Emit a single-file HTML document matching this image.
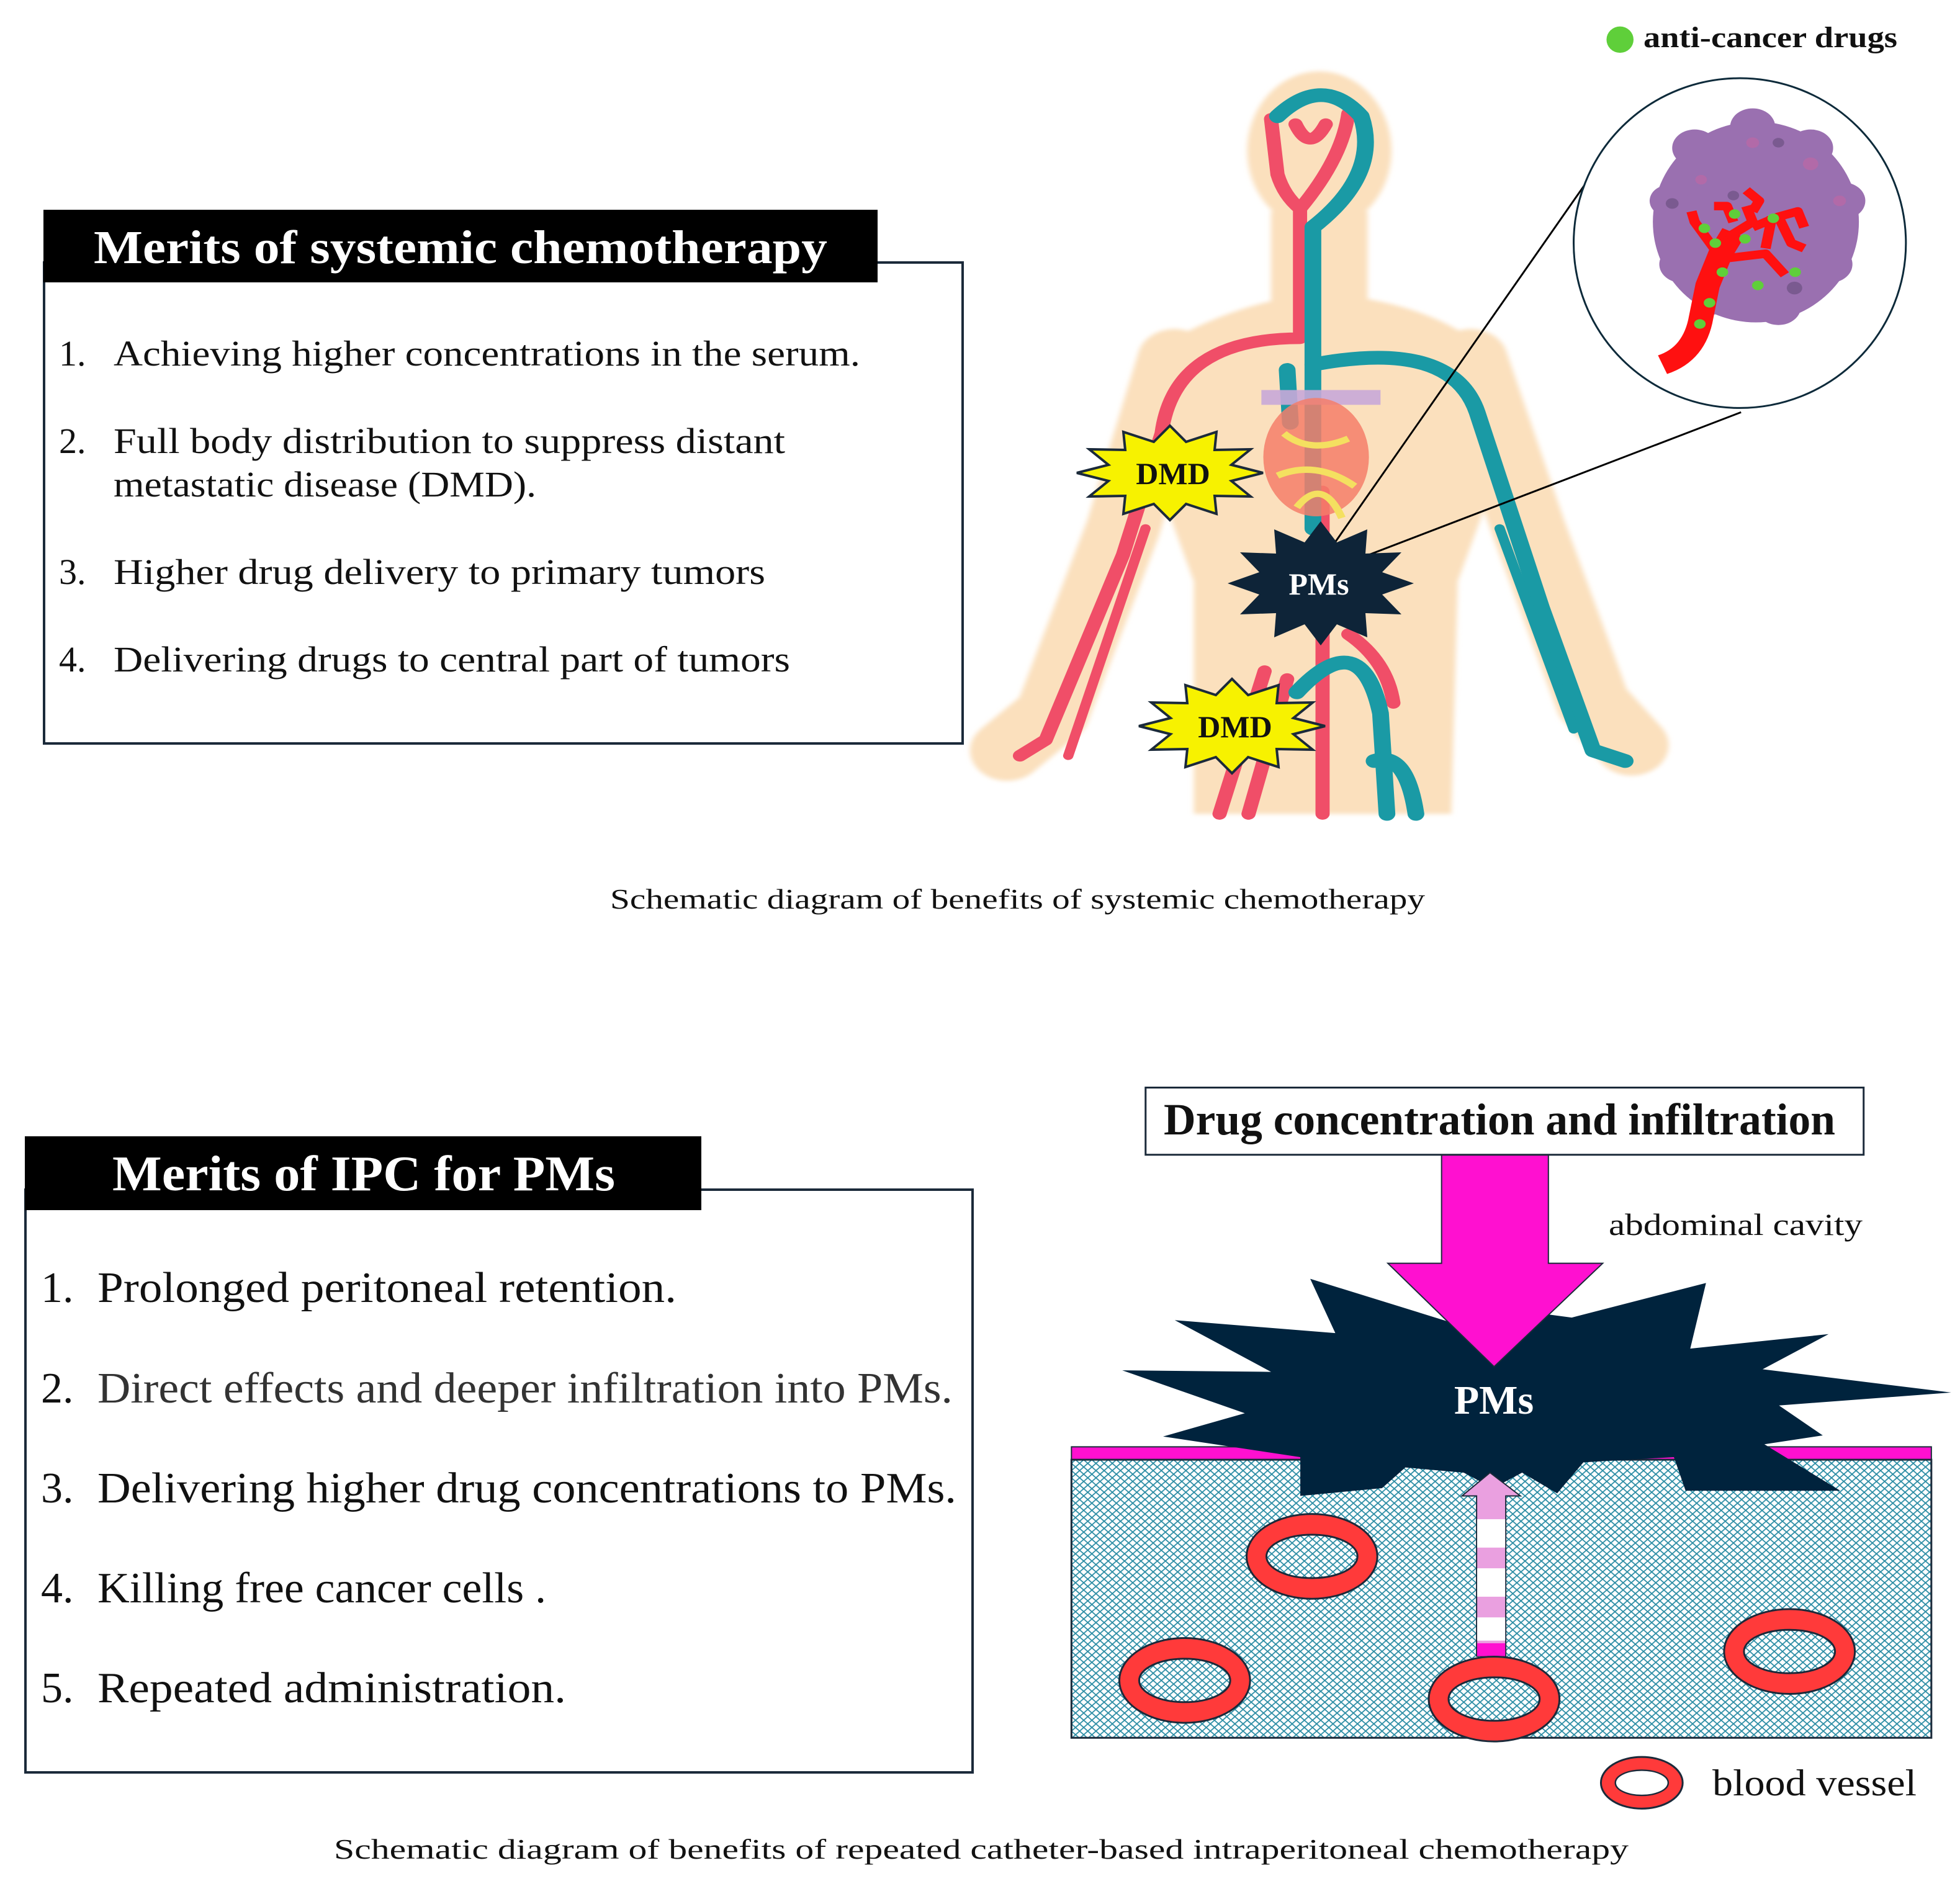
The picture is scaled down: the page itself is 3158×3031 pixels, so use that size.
<!DOCTYPE html>
<html><head><meta charset="utf-8"><style>
html,body{margin:0;padding:0;background:#fff}
svg{display:block}
text{font-family:"Liberation Serif",serif}
</style></head><body>
<svg width="3158" height="3031" viewBox="0 0 3158 3031" xmlns="http://www.w3.org/2000/svg">
<defs>
<pattern id="hatch" width="14" height="14" patternUnits="userSpaceOnUse">
<rect width="14" height="14" fill="#fff"/>
<path d="M0 0L14 14M14 0L0 14" stroke="#2a8ca4" stroke-width="2"/>
</pattern>
<filter id="blur" x="-20%" y="-20%" width="140%" height="140%"><feGaussianBlur stdDeviation="4"/></filter>
</defs>

<rect x="71" y="423" width="1480" height="775" fill="none" stroke="#1b2a3a" stroke-width="4"/>
<rect x="70" y="338" width="1344" height="117" fill="#000"/>
<text x="151" y="424" font-size="76" font-weight="bold" fill="#fff" textLength="1182" lengthAdjust="spacingAndGlyphs">Merits of systemic chemotherapy</text>
<g font-size="58" fill="#111">
<text x="95" y="589">1.</text><text x="183" y="589" textLength="1203" lengthAdjust="spacingAndGlyphs">Achieving higher concentrations in the serum.</text>
<text x="95" y="730">2.</text><text x="183" y="730" textLength="1082" lengthAdjust="spacingAndGlyphs">Full body distribution to suppress distant</text>
<text x="183" y="800" textLength="681" lengthAdjust="spacingAndGlyphs">metastatic disease (DMD).</text>
<text x="95" y="941">3.</text><text x="183" y="941" textLength="1050" lengthAdjust="spacingAndGlyphs">Higher drug delivery to primary tumors</text>
<text x="95" y="1082">4.</text><text x="183" y="1082" textLength="1090" lengthAdjust="spacingAndGlyphs">Delivering drugs to central part of tumors</text>
</g>
<text x="983" y="1464" font-size="46" fill="#111" textLength="1313" lengthAdjust="spacingAndGlyphs">Schematic diagram of benefits of systemic chemotherapy</text>

<g transform="translate(1550,0) scale(1.0374,0.8516)">
<g filter="url(#blur)" fill="#fbe0bd" stroke="#fbe0bd">
<ellipse cx="555" cy="285" rx="112" ry="150" stroke="none"/>
<rect x="480" y="400" width="150" height="190" stroke="none"/>
<path d="M330 640 Q420 580 520 560 L600 560 Q720 580 790 640 L830 900 L770 1100 L760 1540 L360 1540 L360 1100 L300 900 Z" stroke="none"/>
<path d="M330 680 L250 1000 L140 1350 L70 1420" fill="none" stroke-width="115" stroke-linecap="round" stroke-linejoin="round"/>
<path d="M790 680 L880 1000 L980 1330 L1040 1410" fill="none" stroke-width="115" stroke-linecap="round" stroke-linejoin="round"/>
</g>
<g fill="none" stroke="#f04e68" stroke-width="22" stroke-linecap="round" stroke-linejoin="round">
<path d="M480 225 L490 330 Q500 370 525 395 M600 215 Q590 300 525 395 M518 235 Q540 290 565 235"/>
<path d="M525 395 L525 640 Q330 640 310 820 L250 1050 L130 1400 L90 1430"/>
<path d="M285 1000 L165 1430" stroke-width="16"/>
<path d="M560 930 L560 1540"/>
<path d="M600 1200 Q660 1250 670 1330"/>
<path d="M470 1270 L400 1540 M505 1285 L445 1540"/>
</g>
<g fill="none" stroke="#1a9aa5" stroke-width="26" stroke-linecap="round" stroke-linejoin="round">
<path d="M490 220 Q560 140 620 220 Q650 330 545 430 L545 1000"/>
<path d="M545 690 Q760 640 800 780 L900 1150 L980 1420 L1030 1440"/>
<path d="M835 1000 L950 1380" stroke-width="16"/>
<path d="M520 1310 Q620 1180 650 1350 L660 1540"/>
<path d="M640 1440 Q690 1420 705 1540"/>
<path d="M505 700 L510 800"/>
</g>
<rect x="465" y="738" width="185" height="28" fill="#c8a8d8" opacity=".9"/>
<ellipse cx="550" cy="865" rx="82" ry="112" fill="#f47e6a" opacity=".85"/>
<path d="M500 820 Q540 860 600 830 M490 900 Q550 870 610 920 M520 960 Q560 900 590 980" stroke="#f4e060" stroke-width="12" fill="none"/>
<line x1="560" y1="1060" x2="1030" y2="240" stroke="#000" stroke-width="3" vector-effect="non-scaling-stroke"/>
<line x1="610" y1="1060" x2="1210" y2="780" stroke="#000" stroke-width="3" vector-effect="non-scaling-stroke"/>
<ellipse cx="1208" cy="460" rx="258" ry="312" fill="#fff" stroke="#0d2a3a" stroke-width="3" vector-effect="non-scaling-stroke"/>
<g transform="translate(-12,0)">
<ellipse cx="1245" cy="420" rx="160" ry="190" fill="#9a70b0"/>
<g fill="#9a70b0">
<circle cx="1110" cy="380" r="30"/><circle cx="1130" cy="500" r="35"/><circle cx="1180" cy="560" r="35"/><circle cx="1280" cy="580" r="35"/><circle cx="1360" cy="500" r="35"/><circle cx="1380" cy="380" r="35"/><circle cx="1330" cy="280" r="35"/><circle cx="1240" cy="240" r="35"/><circle cx="1150" cy="280" r="35"/>
</g>
<g fill="#7a5a90"><circle cx="1280" cy="270" r="9"/><circle cx="1115" cy="385" r="10"/><circle cx="1305" cy="545" r="12"/><circle cx="1210" cy="370" r="9"/></g>
<g fill="#b26aa8"><circle cx="1240" cy="270" r="10"/><circle cx="1330" cy="310" r="12"/><circle cx="1160" cy="340" r="9"/><circle cx="1375" cy="380" r="10"/></g>
<g fill="none" stroke="#ff1010" stroke-linejoin="round">
<path d="M1100 690 Q1150 670 1160 600 L1170 540 L1190 480 L1210 440" stroke-width="38"/>
<path d="M1190 490 L1260 480 L1290 520 M1180 470 L1150 420 L1145 400 M1200 450 L1240 420 L1230 390 M1240 430 L1280 410 L1300 460 L1320 470 M1260 470 L1270 410 M1210 420 L1200 390 L1180 390 M1240 400 L1250 380 L1230 360 M1280 410 L1310 400 L1320 430" stroke-width="16"/>
</g>
<g fill="#5fcf3a"><circle cx="1165" cy="432" r="9"/><circle cx="1182" cy="460" r="9"/><circle cx="1212" cy="405" r="9"/><circle cx="1228" cy="452" r="9"/><circle cx="1272" cy="413" r="9"/><circle cx="1193" cy="515" r="9"/><circle cx="1248" cy="540" r="9"/><circle cx="1306" cy="515" r="9"/><circle cx="1173" cy="573" r="9"/><circle cx="1158" cy="613" r="9"/></g>
</g>
<ellipse cx="1022" cy="75" rx="21" ry="25" fill="#5fcf3a"/>
</g>
<text x="2648" y="76" font-size="48" font-weight="bold" fill="#111" textLength="409" lengthAdjust="spacingAndGlyphs">anti-cancer drugs</text>

<polygon points="2035,762 1984,775 2015,800 1957,799 1960,828 1911,812 1885,838 1859,812 1810,828 1813,799 1755,800 1786,775 1735,762 1786,749 1755,724 1813,725 1810,696 1859,712 1885,686 1911,712 1960,696 1957,725 2015,724 1984,749" fill="#f7f200" stroke="#1b2a3a" stroke-width="4"/>
<text x="1890" y="780" font-size="50" font-weight="bold" fill="#111" text-anchor="middle">DMD</text>
<polygon points="2135,1170 2084,1183 2115,1208 2057,1207 2060,1236 2011,1220 1985,1246 1959,1220 1910,1236 1913,1207 1855,1208 1886,1183 1835,1170 1886,1157 1855,1132 1913,1133 1910,1104 1959,1120 1985,1094 2011,1120 2060,1104 2057,1133 2115,1132 2084,1157" fill="#f7f200" stroke="#1b2a3a" stroke-width="4"/>
<text x="1990" y="1188" font-size="50" font-weight="bold" fill="#111" text-anchor="middle">DMD</text>
<polygon points="2278,940 2227,958 2258,990 2200,988 2203,1027 2154,1006 2128,1040 2102,1006 2053,1027 2056,988 1998,990 2029,958 1978,940 2029,922 1998,890 2056,892 2053,853 2102,874 2128,840 2154,874 2203,853 2200,892 2258,890 2227,922" fill="#0e2438"/>
<text x="2125" y="958" font-size="50" font-weight="bold" fill="#fff" text-anchor="middle">PMs</text>

<rect x="41" y="1917" width="1526" height="939" fill="none" stroke="#1b2a3a" stroke-width="4"/>
<rect x="40" y="1831" width="1090" height="119" fill="#000"/>
<text x="181" y="1918" font-size="80" font-weight="bold" fill="#fff" textLength="810" lengthAdjust="spacingAndGlyphs">Merits of IPC for PMs</text>
<g font-size="70" fill="#111">
<text x="66" y="2098">1.</text><text x="157" y="2098" textLength="933" lengthAdjust="spacingAndGlyphs">Prolonged peritoneal retention.</text>
<text x="66" y="2260">2.</text><text x="157" y="2260" fill="#333" textLength="1378" lengthAdjust="spacingAndGlyphs">Direct effects and deeper infiltration into PMs.</text>
<text x="66" y="2421">3.</text><text x="157" y="2421" textLength="1384" lengthAdjust="spacingAndGlyphs">Delivering higher drug concentrations to PMs.</text>
<text x="66" y="2582">4.</text><text x="157" y="2582" textLength="723" lengthAdjust="spacingAndGlyphs">Killing free cancer cells .</text>
<text x="66" y="2743">5.</text><text x="157" y="2743" textLength="755" lengthAdjust="spacingAndGlyphs">Repeated administration.</text>
</g>
<text x="538" y="2995" font-size="46" fill="#111" textLength="2086" lengthAdjust="spacingAndGlyphs">Schematic diagram of benefits of  repeated catheter-based intraperitoneal chemotherapy</text>

<g transform="translate(1700,1740) scale(0.9406,0.8329)">
<rect x="28" y="710" width="1473" height="25" fill="#ff10d0" stroke="#1b2a3a" stroke-width="2" vector-effect="non-scaling-stroke"/>
<rect x="28" y="735" width="1473" height="538" fill="url(#hatch)" stroke="#1b2a3a" stroke-width="3" vector-effect="non-scaling-stroke"/>
<polygon points="115,562 370,565 205,465 480,490 437,385 680,470 752,440 885,460 1115,393 1088,520 1325,492 1212,560 1535,605 1240,630 1315,688 1215,705 1345,795 1080,795 1060,730 905,740 860,800 800,760 750,790 700,760 600,750 560,790 420,805 420,730 185,690 325,645" fill="#00233d"/>
<polygon points="662,145 845,145 845,355 938,355 752,555 570,355 662,355" fill="#ff10d0" stroke="#1b2a3a" stroke-width="2" vector-effect="non-scaling-stroke"/>
<rect x="155" y="15" width="1230" height="130" fill="#fff" stroke="#1b2a3a" stroke-width="3" vector-effect="non-scaling-stroke"/>
<polygon points="745,760 797,805 772,805 772,1115 722,1115 722,805 697,805" fill="#eaa0e0" stroke="#1b2a3a" stroke-width="2" vector-effect="non-scaling-stroke"/>
<rect x="723" y="850" width="48" height="55" fill="#fff"/>
<rect x="723" y="945" width="48" height="55" fill="#fff"/>
<rect x="723" y="1040" width="48" height="45" fill="#fff"/>
<rect x="723" y="1090" width="48" height="25" fill="#ff10d0"/>
<g fill="#ff3a3a" stroke="#1b2a3a" stroke-width="3">
<path fill-rule="evenodd" vector-effect="non-scaling-stroke" d="M328,922a112,82 0 1,0 224,0a112,82 0 1,0 -224,0Z M362,922a78,42 0 1,0 156,0a78,42 0 1,0 -156,0Z"/>
<path fill-rule="evenodd" vector-effect="non-scaling-stroke" d="M110,1162a112,82 0 1,0 224,0a112,82 0 1,0 -224,0Z M144,1162a78,42 0 1,0 156,0a78,42 0 1,0 -156,0Z"/>
<path fill-rule="evenodd" vector-effect="non-scaling-stroke" d="M640,1198a112,82 0 1,0 224,0a112,82 0 1,0 -224,0Z M674,1198a78,42 0 1,0 156,0a78,42 0 1,0 -156,0Z"/>
<path fill-rule="evenodd" vector-effect="non-scaling-stroke" d="M1146,1106a112,82 0 1,0 224,0a112,82 0 1,0 -224,0Z M1180,1106a78,42 0 1,0 156,0a78,42 0 1,0 -156,0Z"/>
<path fill-rule="evenodd" vector-effect="non-scaling-stroke" d="M935,1360a70,50 0 1,0 140,0a70,50 0 1,0 -140,0Z M960,1360a45,24 0 1,0 90,0a45,24 0 1,0 -90,0Z"/>
</g>
<ellipse cx="1005" cy="1360" rx="44" ry="23" fill="#fff"/>
</g>
<text x="1875" y="1828" font-size="72" font-weight="bold" fill="#111" textLength="1082" lengthAdjust="spacingAndGlyphs">Drug concentration and infiltration</text>
<text x="2592" y="1990" font-size="50" fill="#111" textLength="409" lengthAdjust="spacingAndGlyphs">abdominal cavity</text>
<text x="2407" y="2278" font-size="66" font-weight="bold" fill="#fff" text-anchor="middle">PMs</text>
<text x="2759" y="2893" font-size="60" fill="#111" textLength="329" lengthAdjust="spacingAndGlyphs">blood vessel</text>
</svg>
</body></html>
